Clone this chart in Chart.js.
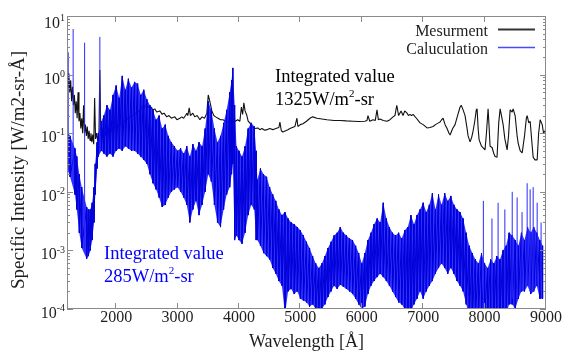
<!DOCTYPE html>
<html>
<head>
<meta charset="utf-8">
<script src="https://cdn.jsdelivr.net/npm/chart.js@4.4.1/dist/chart.umd.min.js"></script>
<style>
  html, body { margin: 0; padding: 0; background: #fff; }
  #chart { display: block; position: relative; z-index: 1; }
  .fontwarm { position: absolute; left: 0; top: 0; font-family: "Liberation Serif"; font-size: 16px; color: #fff; }
</style>
</head>
<body>
<span class="fontwarm">Wavelength 0123456789</span>
<canvas id="chart" width="568" height="360"></canvas>
<script>
// measured spectrum: wavelength [Å] -> intensity [W/m2-sr-Å]
const measWl = [
  1200, 1215, 1230, 1245, 1260, 1275, 1290, 1305, 1320, 1335,
  1350, 1365, 1380, 1395, 1410, 1425, 1440, 1455, 1470, 1485,
  1500, 1515, 1530, 1545, 1560, 1575, 1590, 1605, 1620, 1635,
  1650, 1665, 1680, 1700, 1720, 1735, 1750, 1770, 1790, 1810,
  1830, 1850, 1870, 1890, 1910, 1930, 1950, 1970, 2000, 2100,
  2200, 2300, 2400, 2434, 2460, 2480, 2500, 2520, 2548, 2570,
  2597, 2630, 2660, 2711, 2750, 2780, 2825, 2860, 2900, 2955,
  2990, 3037, 3070, 3100, 3130, 3151, 3167, 3190, 3210, 3249,
  3280, 3320, 3363, 3400, 3440, 3477, 3500, 3526, 3559, 3590,
  3620, 3660, 3700, 3740, 3780, 3820, 3860, 3900, 3940, 3980,
  4015, 4040, 4060, 4080, 4100, 4129, 4150, 4178, 4210, 4259,
  4308, 4340, 4374, 4420, 4455, 4500, 4553, 4600, 4650, 4667,
  4690, 4716, 4760, 4797, 4830, 4870, 4911, 4944, 4960, 5000,
  5042, 5100, 5156, 5200, 5270, 5350, 5433, 5550, 5645, 5750,
  5857, 5950, 6050, 6085, 6101, 6130, 6183, 6220, 6248, 6270,
  6297, 6350, 6411, 6460, 6509, 6540, 6570, 6600, 6640, 6672,
  6700, 6737, 6760, 6786, 6810, 6835, 6890, 6949, 7000, 7063,
  7110, 7161, 7200, 7250, 7275, 7300, 7324, 7357, 7389, 7420,
  7438, 7480, 7519, 7560, 7601, 7620, 7650, 7682, 7715, 7731,
  7764, 7790, 7813, 7840, 7865, 7878, 7895, 7911, 7950, 8007,
  8030, 8057, 8075, 8089, 8122, 8150, 8171, 8203, 8230, 8253,
  8275, 8302, 8330, 8367, 8390, 8416, 8449, 8465, 8497, 8530,
  8546, 8580, 8612, 8650, 8680, 8693, 8720, 8742, 8770, 8791,
  8820, 8856, 8880, 8905, 8938, 8960, 8986, 9000
];
const measVal = [
  0.95, 0.6, 1.05, 0.5, 0.8, 0.35, 0.62, 0.3, 0.45, 0.22,
  0.35, 0.18, 0.5, 0.16, 0.22, 0.12, 0.18, 0.1, 0.3, 0.1,
  0.14, 0.09, 0.13, 0.08, 0.11, 0.075, 0.1, 0.07, 0.095, 0.065,
  0.4, 0.08, 0.1, 0.075, 0.1, 1.2, 0.09, 0.12, 0.085, 0.11,
  0.09, 0.12, 0.1, 0.125, 0.105, 0.12, 0.11, 0.13, 0.13, 0.15,
  0.18, 0.21, 0.25, 0.3, 0.26, 0.31, 0.27, 0.29, 0.26, 0.28,
  0.25, 0.26, 0.23, 0.24, 0.21, 0.22, 0.19, 0.2, 0.18, 0.19,
  0.17, 0.18, 0.19, 0.18, 0.2, 0.22, 0.2, 0.27, 0.2, 0.22,
  0.19, 0.2, 0.17, 0.19, 0.18, 0.22, 0.45, 0.35, 0.24, 0.2,
  0.19, 0.18, 0.17, 0.17, 0.16, 0.15, 0.16, 0.15, 0.16, 0.17,
  0.16, 0.28, 0.21, 0.33, 0.24, 0.2, 0.16, 0.15, 0.13, 0.12,
  0.123, 0.115, 0.12, 0.112, 0.115, 0.12, 0.115, 0.12, 0.125, 0.155,
  0.11, 0.105, 0.11, 0.115, 0.12, 0.125, 0.13, 0.18, 0.13, 0.14,
  0.145, 0.16, 0.18, 0.19, 0.18, 0.175, 0.17, 0.165, 0.165, 0.162,
  0.16, 0.158, 0.16, 0.165, 0.2, 0.16, 0.17, 0.165, 0.25, 0.17,
  0.175, 0.165, 0.16, 0.17, 0.19, 0.2, 0.3, 0.2, 0.24, 0.2,
  0.24, 0.22, 0.2, 0.21, 0.2, 0.21, 0.18, 0.15, 0.14, 0.123,
  0.125, 0.13, 0.14, 0.15, 0.155, 0.17, 0.18, 0.14, 0.12, 0.1,
  0.093, 0.12, 0.14, 0.2, 0.28, 0.3, 0.25, 0.2, 0.12, 0.09,
  0.071, 0.085, 0.11, 0.16, 0.25, 0.26, 0.12, 0.077, 0.06, 0.052,
  0.1, 0.26, 0.12, 0.06, 0.057, 0.045, 0.04, 0.039, 0.15, 0.26,
  0.2, 0.14, 0.08, 0.052, 0.09, 0.25, 0.23, 0.26, 0.2, 0.09,
  0.068, 0.05, 0.046, 0.09, 0.18, 0.2, 0.15, 0.16, 0.07, 0.039,
  0.035, 0.035, 0.1, 0.17, 0.14, 0.1, 0.11, 0.12
];

// calculated spectrum: upper and lower envelope of the line forest
const calcWl = [
  1200, 1250, 1330, 1360, 1400, 1440, 1520, 1550, 1580, 1610,
  1640, 1660, 1690, 1710, 1760, 1800, 1850, 1900, 1950, 2000,
  2050, 2100, 2150, 2200, 2250, 2300, 2350, 2400, 2450, 2500,
  2550, 2600, 2650, 2700, 2750, 2800, 2850, 2900, 2950, 3000,
  3050, 3100, 3150, 3200, 3250, 3300, 3350, 3400, 3450, 3500,
  3550, 3600, 3650, 3700, 3750, 3800, 3850, 3880, 3900, 3930,
  3960, 4000, 4050, 4100, 4150, 4200, 4250, 4280, 4300, 4350,
  4400, 4450, 4500, 4550, 4600, 4650, 4700, 4750, 4800, 4850,
  4900, 4950, 5000, 5050, 5100, 5150, 5200, 5250, 5300, 5350,
  5400, 5450, 5500, 5550, 5600, 5650, 5700, 5750, 5800, 5850,
  5900, 5950, 6000, 6050, 6100, 6150, 6200, 6250, 6300, 6350,
  6400, 6450, 6500, 6550, 6600, 6650, 6700, 6750, 6800, 6850,
  6900, 6950, 7000, 7050, 7100, 7150, 7200, 7250, 7300, 7350,
  7400, 7450, 7500, 7550, 7600, 7650, 7700, 7750, 7800, 7850,
  7900, 7950, 8000, 8050, 8100, 8150, 8200, 8250, 8300, 8350,
  8400, 8450, 8500, 8550, 8600, 8650, 8700, 8750, 8800, 8850,
  8900, 8945
];
const calcHi = [
  0.11, 0.09, 0.055, 0.04, 0.02, 0.012, 0.0055, 0.005, 0.005, 0.0065,
  0.012, 0.03, 0.07, 0.1, 0.16, 0.2, 0.3, 0.25, 0.45, 0.65,
  0.4, 0.95, 0.55, 0.85, 0.6, 0.75, 0.7, 0.45, 0.55, 0.38,
  0.3, 0.25, 0.17, 0.2, 0.12, 0.14, 0.09, 0.07, 0.06, 0.05,
  0.055, 0.045, 0.06, 0.04, 0.065, 0.05, 0.07, 0.06, 0.12, 0.35,
  0.25, 0.12, 0.07, 0.09, 0.15, 0.25, 0.5, 0.8, 1.3, 0.3,
  0.06, 0.05, 0.04, 0.06, 0.12, 0.15, 0.13, 0.05, 0.016, 0.025,
  0.02, 0.018, 0.012, 0.009, 0.007, 0.005, 0.004, 0.0045, 0.0035, 0.003,
  0.0028, 0.0025, 0.0022, 0.0018, 0.0014, 0.0011, 0.0008, 0.0006, 0.0005, 0.0006,
  0.0008, 0.0011, 0.0014, 0.0018, 0.002, 0.0025, 0.002, 0.0018, 0.0016, 0.0015,
  0.0012, 0.0009, 0.0006, 0.0009, 0.0015, 0.002, 0.0028, 0.0035, 0.003, 0.0065,
  0.0035, 0.0025, 0.002, 0.0018, 0.002, 0.0016, 0.0022, 0.0025, 0.004, 0.0028,
  0.004, 0.005, 0.0065, 0.0045, 0.006, 0.0095, 0.005, 0.009, 0.006, 0.0095,
  0.007, 0.0085, 0.006, 0.005, 0.0045, 0.0035, 0.002, 0.0012, 0.0009, 0.0007,
  0.0006, 0.0009, 0.0006, 0.0005, 0.0007, 0.0006, 0.0008, 0.0007, 0.001, 0.0012,
  0.002, 0.0018, 0.0015, 0.0012, 0.002, 0.0015, 0.0025, 0.002, 0.0025, 0.002,
  0.0015, 0.0012
];
const calcLo = [
  0.025, 0.018, 0.009, 0.005, 0.002, 0.0011, 0.00072, 0.0008, 0.001, 0.0015,
  0.003, 0.009, 0.025, 0.04, 0.05, 0.045, 0.04, 0.045, 0.04, 0.05,
  0.055, 0.05, 0.06, 0.055, 0.05, 0.05, 0.045, 0.04, 0.035, 0.03,
  0.02, 0.014, 0.011, 0.008, 0.0055, 0.006, 0.008, 0.01, 0.011, 0.012,
  0.01, 0.008, 0.006, 0.003, 0.005, 0.007, 0.004, 0.006, 0.01, 0.02,
  0.015, 0.006, 0.003, 0.0025, 0.005, 0.009, 0.012, 0.02, 0.03, 0.0015,
  0.0018, 0.0015, 0.0013, 0.002, 0.004, 0.006, 0.005, 0.0015, 0.0015, 0.0012,
  0.0009, 0.0008, 0.0007, 0.0005, 0.0004, 0.0003, 0.00025, 0.00008, 0.0002, 0.00022,
  0.00018, 0.0002, 0.00015, 0.00014, 0.00013, 0.00011, 0.00012, 0.0001, 0.00009, 0.0001,
  0.00012, 0.00016, 0.0002, 0.00025, 0.00022, 0.00026, 0.00024, 0.00022, 0.0002, 0.00018,
  0.00015, 0.00012, 0.0001, 0.00011, 0.00018, 0.00025, 0.0003, 0.00035, 0.0004, 0.00035,
  0.0003, 0.00025, 0.0002, 0.00016, 0.00013, 0.00012, 0.0001, 0.00008, 0.00009, 0.00012,
  0.00015, 0.0002, 0.00015, 0.0002, 0.00025, 0.0003, 0.0004, 0.0005, 0.0006, 0.0005,
  0.0004, 0.0005, 0.0004, 0.0003, 0.00025, 0.0002, 0.00012, 0.00008, 0.00008, 0.00008,
  0.00008, 0.00008, 0.00008, 0.00008, 0.00008, 0.00008, 0.00008, 0.00008, 0.0001, 0.00008,
  0.00012, 0.00012, 0.0001, 0.00015, 0.0002, 0.0002, 0.00025, 0.00018, 0.0002, 0.00025,
  0.00015, 0.00015
];

// isolated strong lines of the calculation
const spikeWl = [1220, 1300, 1487, 1735, 7980, 8120, 8220, 8330, 8450, 8530, 8610, 8693, 8742, 8791, 8856, 8920];
const spikeTop = [2.4, 6.0, 3.5, 4.4, 0.007, 0.0035, 0.0065, 0.005, 0.01, 0.008, 0.0045, 0.014, 0.011, 0.012, 0.0065, 0.003];
const spikeBase = [0.03, 0.014, 0.001, 0.05, 0.0001, 0.0001, 0.0001, 0.0001, 0.00015, 0.00015, 0.0002, 0.00025, 0.0002, 0.0002, 0.00025, 0.0002];

const xTickValues = [2000, 3000, 4000, 5000, 6000, 7000, 8000, 9000];
const yTickExponents = [-4, -3, -2, -1, 0, 1];
const seriesNames = ['Mesurment', 'Caluculation'];

const SERIF = '"Liberation Serif"';
const TEXT = '#1e1e1e';
const BLUE = '#0000ff';
const BLACK = '#111111';

const measPoints = measWl.map((w, i) => ({x: w, y: measVal[i]}));
const upperPoints = calcWl.map((w, i) => ({x: w, y: calcHi[i]}));
const lowerPoints = calcWl.map((w, i) => ({x: w, y: calcLo[i]}));

// hi/lo pairs give the striped texture of the line forest
const zigPoints = [];
calcWl.forEach((w, i) => {
    zigPoints.push({x: w, y: calcHi[i]});
    zigPoints.push({x: w, y: calcLo[i]});
});

// each spike is a vertical segment, separated by gaps
const spikePoints = [];
spikeWl.forEach((w, i) => {
    spikePoints.push({x: w, y: spikeBase[i]});
    spikePoints.push({x: w, y: spikeTop[i]});
    spikePoints.push({x: w, y: null});
});

// text with superscript pieces, parts = [[text, isSup], ...]
function drawRich(ctx, parts, x, y, size, align) {
    const supSize = Math.round(size * 0.62);
    let width = 0;
    parts.forEach(([t, sup]) => {
        ctx.font = `${sup ? supSize : size}px ${SERIF}`;
        width += ctx.measureText(t).width;
    });
    let cx = align === 'right' ? x - width : x;
    ctx.textAlign = 'left';
    ctx.textBaseline = 'alphabetic';
    parts.forEach(([t, sup]) => {
        ctx.font = `${sup ? supSize : size}px ${SERIF}`;
        ctx.fillText(t, cx, sup ? y - size * 0.42 : y);
        cx += ctx.measureText(t).width;
    });
}

const framePlugin = {
    id: 'frame',
    afterDraw(chart) {
        const {ctx, chartArea: a, scales: {x, y}} = chart;
        ctx.save();

        // box and inward ticks
        ctx.strokeStyle = '#8a8a8a';
        ctx.lineWidth = 1;
        ctx.strokeRect(a.left + 0.5, a.top + 0.5, a.right - a.left - 1, a.bottom - a.top - 1);
        ctx.beginPath();
        xTickValues.forEach(v => {
            const px = Math.round(x.getPixelForValue(v)) - 0.5;
            ctx.moveTo(px, a.bottom); ctx.lineTo(px, a.bottom - 6);
            ctx.moveTo(px, a.top); ctx.lineTo(px, a.top + 6);
        });
        yTickExponents.forEach(e => {
            for (let m = 1; m < 10; m++) {
                if (e === 1 && m > 1) break;
                const py = Math.round(y.getPixelForValue(m * Math.pow(10, e))) + 0.5;
                const len = m === 1 ? 6 : 3;
                ctx.moveTo(a.left, py); ctx.lineTo(a.left + len, py);
                ctx.moveTo(a.right, py); ctx.lineTo(a.right - len, py);
            }
        });
        ctx.stroke();

        ctx.fillStyle = TEXT;

        // x tick labels
        ctx.font = `16px ${SERIF}`;
        ctx.textAlign = 'center';
        ctx.textBaseline = 'alphabetic';
        xTickValues.forEach(v => {
            ctx.fillText(String(v), x.getPixelForValue(v), 322);
        });

        // y tick labels, 10 with exponent
        yTickExponents.forEach(e => {
            const py = y.getPixelForValue(Math.pow(10, e));
            drawRich(ctx, [['10', false], [String(e), true]], 65, Math.max(py + 9, 28), 16, 'right');
        });

        // axis titles
        ctx.font = `18px ${SERIF}`;
        ctx.textAlign = 'center';
        ctx.fillText('Wavelength [Å]', (a.left + a.right) / 2, 347);
        ctx.save();
        ctx.translate(24, 170);
        ctx.rotate(-Math.PI / 2);
        ctx.font = `19px ${SERIF}`;
        ctx.fillText('Specific Intensity [W/m2-sr-Å]', 0, 0);
        ctx.restore();

        // key, top right inside the frame
        [[seriesNames[0], '#333333', 1.8], [seriesNames[1], '#4848ff', 1.5]].forEach(([name, color, lw], i) => {
            const base = 36 + i * 18;
            ctx.font = `16px ${SERIF}`;
            ctx.textAlign = 'right';
            ctx.fillStyle = TEXT;
            ctx.fillText(name, 488, base);
            ctx.strokeStyle = color;
            ctx.lineWidth = lw;
            ctx.beginPath();
            ctx.moveTo(498, base - 6.5);
            ctx.lineTo(535, base - 6.5);
            ctx.stroke();
        });

        // integrated values
        ctx.fillStyle = '#000';
        drawRich(ctx, [['Integrated value', false]], 275, 82, 18.5, 'left');
        drawRich(ctx, [['1325W/m', false], ['2', true], ['-sr', false]], 275, 105, 18.5, 'left');
        ctx.fillStyle = BLUE;
        drawRich(ctx, [['Integrated value', false]], 104, 259, 18.5, 'left');
        drawRich(ctx, [['285W/m', false], ['2', true], ['-sr', false]], 104, 282, 18.5, 'left');

        ctx.restore();
    }
};

function render() {
    const line = {pointRadius: 0, tension: 0, clip: 0, borderJoinStyle: 'bevel'};
    new Chart(document.getElementById('chart'), {
        type: 'line',
        data: {
            datasets: [
                {...line, label: seriesNames[1], data: spikePoints, borderColor: '#2a2aff', borderWidth: 1, spanGaps: false},
                {...line, label: seriesNames[1], data: zigPoints, borderColor: '#0000d8', borderWidth: 1},
                {...line, label: seriesNames[1], data: upperPoints, borderWidth: 0, borderColor: 'rgba(0,0,0,0)',
                    fill: '+1', backgroundColor: 'rgba(20,20,255,0.88)'},
                {...line, label: seriesNames[1], data: lowerPoints, borderWidth: 0, borderColor: 'rgba(0,0,0,0)'},
                {...line, label: seriesNames[0], data: measPoints, borderColor: BLACK, borderWidth: 1.1}
            ]
        },
        options: {
            responsive: false,
            animation: false,
            devicePixelRatio: 1,
            layout: {padding: {left: 67, top: 16, right: 22, bottom: 51}},
            plugins: {
                legend: {display: false},
                tooltip: {enabled: false}
            },
            scales: {
                x: {type: 'linear', min: 1200, max: 9000, display: false},
                y: {type: 'logarithmic', min: 1e-4, max: 10, display: false}
            }
        },
        plugins: [framePlugin]
    });
}

render();
</script>
</body>
</html>
